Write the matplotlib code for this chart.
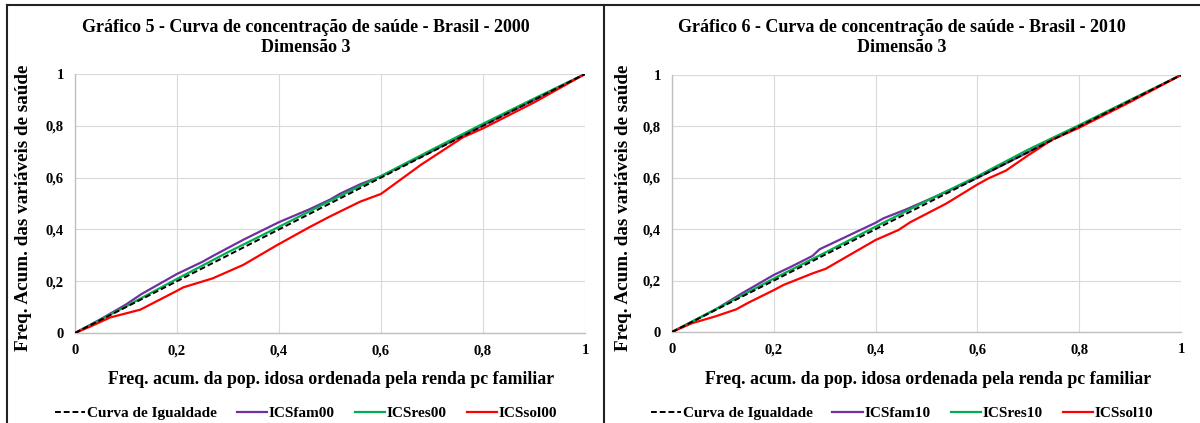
import matplotlib.pyplot as plt
from matplotlib.lines import Line2D
from matplotlib.ticker import FuncFormatter
import numpy as np

plt.rcParams['font.family'] = ['Liberation Serif', 'DejaVu Serif']
plt.rcParams['font.weight'] = 'bold'

# ---- data ----
eq_x = [0, 1]
eq_y = [0, 1]

# 2000
fam00_x = [0, 0.05, 0.1, 0.13, 0.2, 0.25, 0.27, 0.33, 0.4, 0.46, 0.5, 0.52, 0.56, 0.6, 0.7, 0.76, 0.8, 0.9, 1]
fam00_y = [0, 0.053, 0.11, 0.15, 0.228, 0.275, 0.297, 0.36, 0.428, 0.478, 0.515, 0.538, 0.575, 0.605, 0.702, 0.762, 0.802, 0.9, 1]
res00_x = [0, 0.1, 0.2, 0.3, 0.4, 0.5, 0.56, 0.6, 0.7, 0.8, 0.9, 1]
res00_y = [0, 0.103, 0.209, 0.312, 0.41, 0.51, 0.568, 0.606, 0.708, 0.808, 0.905, 1]
sol00_x = [0, 0.03, 0.069, 0.128, 0.2, 0.212, 0.27, 0.33, 0.395, 0.461, 0.5, 0.559, 0.6, 0.678, 0.761, 0.8, 0.9, 1]
sol00_y = [0, 0.025, 0.06, 0.09, 0.163, 0.176, 0.211, 0.263, 0.338, 0.41, 0.45, 0.507, 0.537, 0.649, 0.756, 0.79, 0.89, 1]

# 2010
fam10_x = [0, 0.084, 0.137, 0.2, 0.234, 0.276, 0.29, 0.4, 0.415, 0.46, 0.535, 0.6, 0.648, 0.7, 0.75, 0.8, 0.9, 1]
fam10_y = [0, 0.086, 0.15, 0.222, 0.254, 0.296, 0.322, 0.425, 0.442, 0.477, 0.542, 0.6, 0.648, 0.7, 0.755, 0.8, 0.9, 1]
res10_x = [0, 0.1, 0.2, 0.3, 0.4, 0.5, 0.6, 0.65, 0.7, 0.8, 0.9, 1]
res10_y = [0, 0.103, 0.208, 0.308, 0.41, 0.51, 0.606, 0.658, 0.71, 0.805, 0.903, 1]
sol10_x = [0, 0.039, 0.084, 0.126, 0.151, 0.2, 0.219, 0.276, 0.302, 0.4, 0.445, 0.468, 0.539, 0.6, 0.622, 0.656, 0.7, 0.746, 0.8, 0.9, 1]
sol10_y = [0, 0.034, 0.06, 0.088, 0.115, 0.163, 0.183, 0.228, 0.246, 0.358, 0.397, 0.427, 0.5, 0.574, 0.598, 0.628, 0.688, 0.747, 0.795, 0.895, 1]

ticks = [0, 0.2, 0.4, 0.6, 0.8, 1]

panels = [
    ("Gráfico 5 - Curva de concentração de saúde - Brasil - 2000", "00",
     (fam00_x, fam00_y), (res00_x, res00_y), (sol00_x, sol00_y)),
    ("Gráfico 6 - Curva de concentração de saúde - Brasil - 2010", "10",
     (fam10_x, fam10_y), (res10_x, res10_y), (sol10_x, sol10_y)),
]

purple = '#7030A0'
green = '#00B050'
red = '#FF0000'

fig = plt.figure(figsize=(12, 4.23), dpi=100)
W, H = 1200, 423

def fx(px):
    return px / W

def fy(py):
    return 1 - py / H

# frame lines of the two boxes
fig.add_artist(Line2D([fx(7), fx(1200)], [fy(5), fy(5)], color='#222222', lw=1.5))
fig.add_artist(Line2D([fx(7), fx(7)], [fy(5), 0], color='#222222', lw=1.5))
fig.add_artist(Line2D([fx(604), fx(604)], [fy(5), 0], color='#222222', lw=1.5))

axes_px = [(75, 585, 74, 333), (672, 1181, 75, 332)]
centers = [306, 902]
xl_centers = [331, 928]
yl_x = [24, 623]

fmt = FuncFormatter(lambda v, p: ('%g' % v).replace('.', ','))

for i, (title, suf, fam, res, sol) in enumerate(panels):
    x0, x1, y0, y1 = axes_px[i]
    ax = fig.add_axes([fx(x0), fy(y1), fx(x1 - x0), (y1 - y0) / H])
    ax.plot(eq_x, eq_y, color='black', ls=(0, (3, 1.5)), lw=1.4, zorder=4)
    ax.plot(fam[0], fam[1], color=purple, lw=1.6, zorder=3)
    ax.plot(res[0], res[1], color=green, lw=1.6, zorder=3)
    ax.plot(sol[0], sol[1], color=red, lw=1.6, zorder=3)
    ax.set_xlim(0, 1)
    ax.set_ylim(0, 1)
    ax.set_xticks(ticks)
    ax.set_yticks(ticks)
    ax.xaxis.set_major_formatter(fmt)
    ax.yaxis.set_major_formatter(fmt)
    ax.grid(True, color='#D9D9D9', lw=0.8)
    ax.set_axisbelow(True)
    for s in ['top', 'right']:
        ax.spines[s].set_visible(False)
    for s in ['left', 'bottom']:
        ax.spines[s].set_color('#BFBFBF')
        ax.spines[s].set_linewidth(1.0)
    ax.tick_params(length=0, labelsize=10.5, pad=8)
    for lab in ax.get_xticklabels() + ax.get_yticklabels():
        lab.set_fontweight('bold')

    fig.text(fx(centers[i]), fy(27), title, ha='center', va='center', fontsize=13, fontweight='bold')
    fig.text(fx(centers[i]), fy(48), "Dimensão 3", ha='center', va='center', fontsize=13, fontweight='bold')
    fig.text(fx(xl_centers[i]), fy(379), "Freq. acum. da pop. idosa ordenada pela renda pc familiar",
             ha='center', va='center', fontsize=12.8, fontweight='bold')
    fig.text(fx(yl_x[i]), fy(208), "Freq. Acum. das variáveis de saúde", ha='center', va='center',
             rotation=90, fontsize=13.8, fontweight='bold')

    handles = [
        Line2D([], [], color='black', ls=(0, (3, 1.5)), lw=1.4),
        Line2D([], [], color=purple, lw=1.6),
        Line2D([], [], color=green, lw=1.6),
        Line2D([], [], color=red, lw=1.6),
    ]
    labels = ["Curva de Igualdade", "ICSfam" + suf, "ICSres" + suf, "ICSsol" + suf]
    fig.legend(handles, labels, loc='center', bbox_to_anchor=(fx(centers[i]), fy(413)), ncol=4,
               frameon=False, prop={'weight': 'bold', 'size': 11}, handlelength=2.0,
               handletextpad=0.1, columnspacing=1.3, borderaxespad=0, borderpad=0)

fig.savefig('out.png', dpi=100)
